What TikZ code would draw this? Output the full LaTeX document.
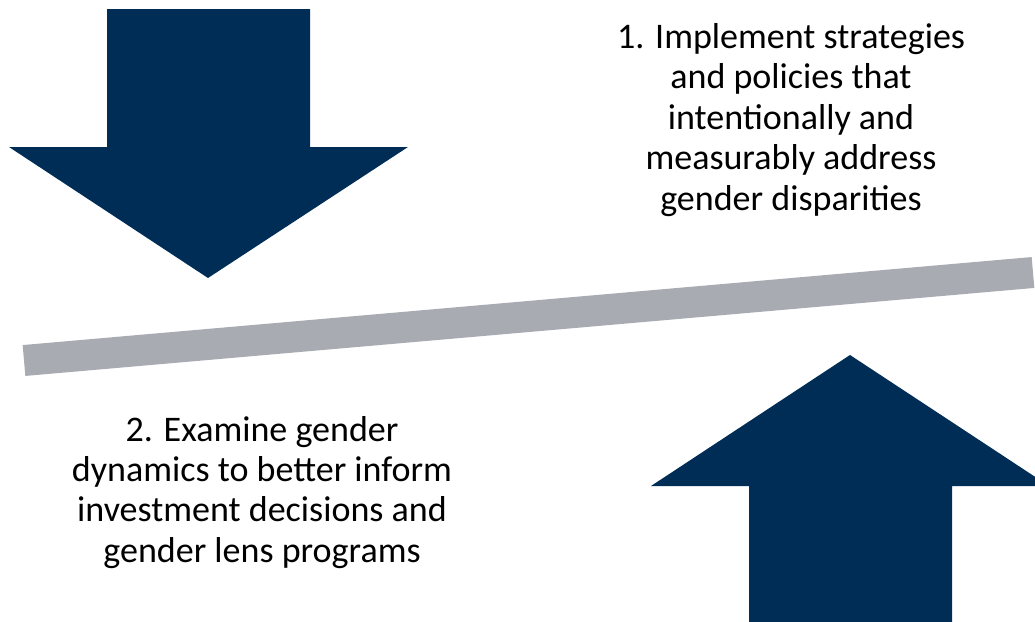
\documentclass[tikz,border=0pt]{standalone}
\usepackage{fontspec}
\setmainfont{Carlito}
\definecolor{navy}{HTML}{002D56}
\definecolor{bargray}{HTML}{A8ABB2}
\begin{document}
\begin{tikzpicture}[x=0.02cm, y=-0.02cm]
        % Page frame
        \useasboundingbox (0,0) rectangle (1035,622);
        \clip (0,0) rectangle (1035,622);

        % Down arrow
        \fill[navy] (107,9) -- (310,9) -- (310,147) -- (408,147) -- (208,278) -- (9,147) -- (107,147) -- cycle;

        % Tilted bar
        \draw[bargray, line width=0.62cm] (24,360.5) -- (1033,272.5);

        % Up arrow
        \fill[navy] (749,630) -- (749,486) -- (651,486) -- (850,355) -- (1049,486) -- (952,486) -- (952,630) -- cycle;

        % Texts
        \node[align=center, anchor=north, font=\fontsize{20.5}{23}\selectfont, inner sep=0] (implement) at (791,23)
            {1. Implement strategies\\and policies that\\intentionally and\\measurably address\\gender disparities};
        \node[align=center, anchor=north, font=\fontsize{20.5}{22.9}\selectfont, inner sep=0] (examine) at (262,416)
            {2. Examine gender\\dynamics to better inform\\investment decisions and\\gender lens programs};
    \end{tikzpicture}
\end{document}
